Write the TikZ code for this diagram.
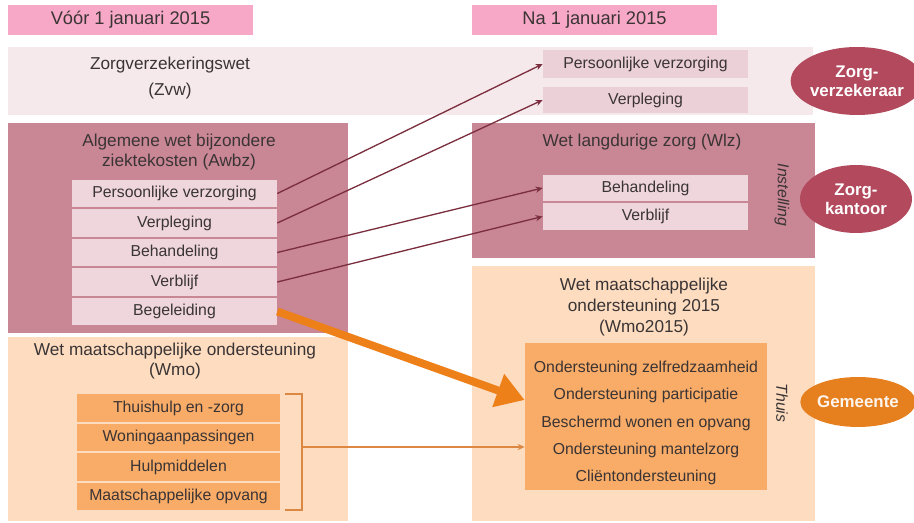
\documentclass[tikz,border=0pt]{standalone}
\usepackage{fontspec}
\setmainfont{Liberation Sans}
\usetikzlibrary{positioning, arrows.meta, calc, shapes.geometric}
\definecolor{headcol}{RGB}{247,168,198}
\definecolor{zvwcol}{RGB}{246,233,236}
\definecolor{zvwitemcol}{RGB}{236,208,215}
\definecolor{awbzcol}{RGB}{201,134,149}
\definecolor{awbzitemcol}{RGB}{238,214,220}
\definecolor{zorgcol}{RGB}{178,73,92}
\definecolor{wmocol}{RGB}{253,220,192}
\definecolor{wmoitemcol}{RGB}{249,172,104}
\definecolor{gemcol}{RGB}{230,128,30}
\definecolor{orangearr}{RGB}{238,128,26}
\definecolor{bracketcol}{RGB}{220,136,66}
\definecolor{linkcol}{RGB}{122,46,62}
\definecolor{txtcol}{RGB}{58,52,52}
\tikzset{
  header/.style={rectangle, fill=headcol, minimum width=4.9cm, minimum height=0.6cm,
                 inner sep=0pt, font=\fontsize{10.4}{12}\selectfont, text=txtcol},
  lawbox/.style={rectangle, inner sep=0pt},
  lawtitle/.style={font=\fontsize{9.8}{11.4}\selectfont, text=txtcol, align=center},
  item/.style={rectangle, inner sep=0pt, minimum width=4.1cm, minimum height=0.55cm,
               font=\fontsize{9}{10}\selectfont, text=txtcol},
  awbz item/.style={item, fill=awbzitemcol},
  zvw item/.style={item, fill=zvwitemcol},
  wmo item/.style={item, fill=wmoitemcol, minimum width=4.06cm},
  place lbl/.style={font=\fontsize{9}{10}\selectfont\itshape, text=txtcol, rotate=-90},
  org node/.style={ellipse, inner sep=0pt, align=center,
                   font=\fontsize{9.6}{10.6}\selectfont\bfseries},
  link arr/.style={-{Stealth[length=4pt, width=3.5pt]}, line width=0.75pt, linkcol},
  move arr/.style={-{Triangle[length=16pt, width=19pt]}, line width=4.5pt, orangearr},
  wmo arr/.style={-{Stealth[length=4pt, width=3.5pt]}, line width=0.7pt, bracketcol},
  bracket/.style={line width=0.7pt, bracketcol},
}
\begin{document}
\begin{tikzpicture}[x=0.02cm, y=-0.02cm]
    \useasboundingbox (0,0) rectangle (914,523);

    \node[header] (hdr_before) at (130.5,20) {Vóór 1 januari 2015};
    \node[header] (hdr_after) at (594.5,20) {Na 1 januari 2015};

    % Zvw
    \node[lawbox, fill=zvwcol, minimum width=16.1cm, minimum height=1.36cm] (zvw) at (410.5,81) {};
    \node[lawtitle, font=\fontsize{9.8}{14.7}\selectfont] (zvw_t) at (170,78) {Zorgverzekeringswet\\(Zvw)};
    \node[zvw item, minimum height=0.56cm] (zv1) at (645.5,64) {Persoonlijke verzorging};
    \node[zvw item, minimum height=0.52cm] (zv2) at (645.5,100) {Verpleging};
    \node[org node, fill=zorgcol, text=white, minimum width=2.28cm, minimum height=1.36cm] (zvz) at (857,81) {Zorg-\\verzekeraar};

    % Awbz
    \node[lawbox, fill=awbzcol, minimum width=6.8cm, minimum height=4.2cm] (awbz) at (178,228) {};
    \node[lawtitle] (awbz_t) at (179,152) {Algemene wet bijzondere\\ziektekosten (Awbz)};
    \node[awbz item] (aw1) at (174.5,193.5) {Persoonlijke verzorging};
    \node[awbz item] (aw2) at (174.5,223) {Verpleging};
    \node[awbz item] (aw3) at (174.5,252.5) {Behandeling};
    \node[awbz item] (aw4) at (174.5,282) {Verblijf};
    \node[awbz item] (aw5) at (174.5,311.5) {Begeleiding};

    % Wlz
    \node[lawbox, fill=awbzcol, minimum width=6.86cm, minimum height=2.7cm] (wlz) at (643.5,190.5) {};
    \node[lawtitle] (wlz_t) at (642,142) {Wet langdurige zorg (Wlz)};
    \node[awbz item, minimum height=0.53cm] (wl1) at (645.5,188) {Behandeling};
    \node[awbz item, minimum height=0.53cm] (wl2) at (645.5,216.5) {Verblijf};
    \node[place lbl] (inst) at (782,195) {Instelling};
    \node[org node, fill=zorgcol, text=white, minimum width=2.24cm, minimum height=1.36cm] (zk) at (856,199) {Zorg-\\kantoor};

    % Wmo
    \node[lawbox, fill=wmocol, minimum width=6.8cm, minimum height=3.68cm] (wmo) at (178,429) {};
    \node[lawtitle] (wmo_t) at (175,361) {Wet maatschappelijke ondersteuning\\(Wmo)};
    \node[wmo item] (wm1) at (178.5,408) {Thuishulp en -zorg};
    \node[wmo item] (wm2) at (178.5,437.5) {Woningaanpassingen};
    \node[wmo item] (wm3) at (178.5,467) {Hulpmiddelen};
    \node[wmo item] (wm4) at (178.5,496.5) {Maatschappelijke opvang};
    \coordinate (br_tl) at (285,394);
    \coordinate (br_tr) at (302,394);
    \coordinate (br_br) at (302,510);
    \coordinate (br_bl) at (285,510);
    \coordinate (br_mid) at (302,447);

    % Wmo2015
    \node[lawbox, fill=wmocol, minimum width=6.86cm, minimum height=5.1cm] (wmo15) at (643.5,393.5) {};
    \node[lawtitle, font=\fontsize{9.8}{12}\selectfont] (wmo15_t) at (644,307) {Wet maatschappelijke\\ondersteuning 2015\\(Wmo2015)};
    \node[lawbox, fill=wmoitemcol, minimum width=4.84cm, minimum height=2.94cm] (wmonew) at (646,416.5) {};
    \node[align=center, text=txtcol, font=\fontsize{9}{15.6}\selectfont] (wmonew_t) at (646,423)
        {Ondersteuning zelfredzaamheid\\Ondersteuning participatie\\Beschermd wonen en opvang\\Ondersteuning mantelzorg\\Cliëntondersteuning};
    \node[place lbl] (thuis) at (782,403) {Thuis};
    \node[org node, fill=gemcol, text=white!92!gemcol, minimum width=2.2cm, minimum height=1.0cm] (gem) at (858,402) {Gemeente};

    \draw[link arr] (aw1.east) -- (zv1.west);
    \draw[link arr] (aw2.east) -- (zv2.west);
    \draw[link arr] (aw3.east) -- (wl1.west);
    \draw[link arr] (aw4.east) -- (wl2.west);
    \draw[move arr] (aw5.east) -- ([yshift=0.33cm]wmonew.west);
    \draw[bracket] (br_tl) -- (br_tr) -- (br_br) -- (br_bl);
    \draw[wmo arr] (br_mid) -- (br_mid -| wmonew.west);
\end{tikzpicture}
\end{document}
